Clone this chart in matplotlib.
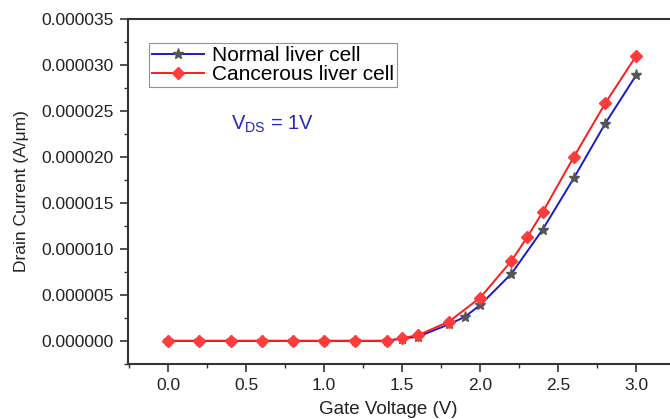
import matplotlib
matplotlib.use("Agg")
import matplotlib.pyplot as plt
from matplotlib.ticker import FormatStrFormatter, MultipleLocator

plt.rcParams["font.family"] = ["Liberation Sans", "DejaVu Sans"]

# Drain current (A/um) vs gate voltage (V)
normal_vg = [0.0, 0.2, 0.4, 0.6, 0.8, 1.0, 1.2, 1.4, 1.5, 1.6, 1.8, 1.9, 2.0, 2.2, 2.4, 2.6, 2.8, 3.0]
normal_id = [0, 0, 0, 0, 0, 0, 0, 0, 0.25e-6, 0.45e-6, 1.8e-6, 2.6e-6, 3.9e-6,
             7.3e-6, 12.1e-6, 17.7e-6, 23.6e-6, 28.9e-6]

cancer_vg = [0.0, 0.2, 0.4, 0.6, 0.8, 1.0, 1.2, 1.4, 1.5, 1.6, 1.8, 2.0, 2.2, 2.3, 2.4, 2.6, 2.8, 3.0]
cancer_id = [0, 0, 0, 0, 0, 0, 0, 0, 0.3e-6, 0.6e-6, 2.1e-6, 4.7e-6, 8.7e-6,
             11.25e-6, 14.0e-6, 20.0e-6, 25.8e-6, 31.0e-6]

fig = plt.figure(figsize=(6.7, 4.19), dpi=100)
ax = fig.add_axes([0.191, 0.131, 0.809, 0.824])

ax.plot(normal_vg, normal_id, color="#1a1acc", lw=1.4, marker="*", ms=8,
        mfc="#555555", mec="#555555", label="Normal liver cell", zorder=3)
ax.plot(cancer_vg, cancer_id, color="#ff1a1a", lw=1.4, marker="D", ms=6,
        mfc="#ff3b3b", mec="#ff3b3b", label="Cancerous liver cell", zorder=4)

ax.set_xlim(-0.258, 3.216)
ax.set_ylim(-2.53e-6, 3.5e-5)
ax.xaxis.set_major_locator(MultipleLocator(0.5))
ax.xaxis.set_minor_locator(MultipleLocator(0.25))
ax.yaxis.set_major_locator(MultipleLocator(5e-6))
ax.yaxis.set_minor_locator(MultipleLocator(2.5e-6))
ax.yaxis.set_major_formatter(FormatStrFormatter("%.6f"))
ax.xaxis.set_major_formatter(FormatStrFormatter("%.1f"))

for side in ["left", "bottom", "top"]:
    ax.spines[side].set_color("#333333")
    ax.spines[side].set_linewidth(1.5)
ax.spines["right"].set_visible(False)

ax.tick_params(which="major", direction="out", length=6, width=1.2, color="#333333",
               labelsize=12.5, labelcolor="#222222", top=False)
ax.tick_params(which="minor", direction="out", length=3, width=1.0, color="#333333", top=False)
ax.tick_params(axis="x", pad=4)
ax.tick_params(axis="y", pad=4)

ax.set_xlabel("Gate Voltage (V)", fontsize=13.5, color="#222222")
ax.xaxis.set_label_coords(0.48, -0.107)
ax.set_ylabel("Drain Current (A/\u03bcm)", fontsize=12.5, color="#222222")
ax.yaxis.set_label_coords(-0.182, 0.5)

leg = ax.legend(loc="upper left", bbox_to_anchor=(0.039, 0.93), borderaxespad=0,
                fontsize=15, frameon=True, fancybox=False, handlelength=2.5,
                numpoints=1, borderpad=0.15, labelspacing=0.0, handletextpad=0.35)
leg.get_frame().set_edgecolor("#777777")
leg.get_frame().set_linewidth(0.8)

ax.text(0.19, 0.678, "V$_{\\mathregular{DS}}$ = 1V", transform=ax.transAxes,
        fontsize=14.5, color="#2525c0", va="baseline")

fig.savefig("out.png", dpi=100)
